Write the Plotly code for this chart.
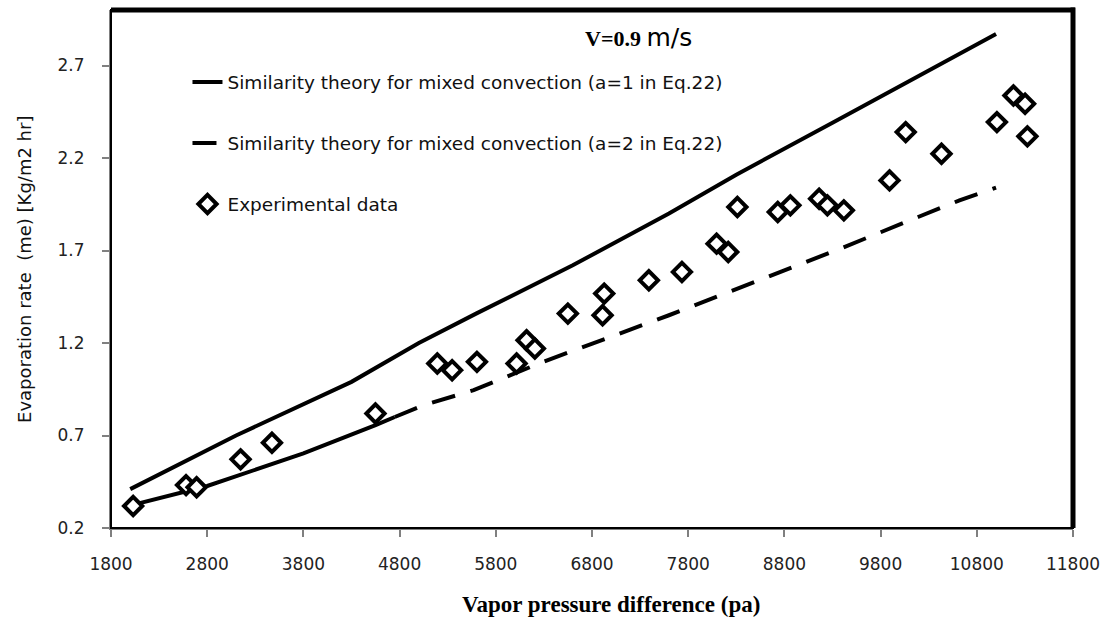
import plotly.graph_objects as go

# ---- data ----
theory_a1_x = [2000, 3100, 4300, 5000, 5600, 6600, 7600, 8300, 9300, 10300, 11000]
theory_a1_y = [0.41, 0.70, 0.99, 1.20, 1.36, 1.62, 1.90, 2.11, 2.39, 2.67, 2.87]

theory_a2_solid_x = [2000, 2100, 2800, 3800, 4550, 4750]
theory_a2_solid_y = [0.31, 0.335, 0.427, 0.603, 0.756, 0.80]

theory_a2_x = [4750, 5050, 5570, 6290, 7600, 8630, 9380, 10190, 10620, 11000]
theory_a2_y = [0.80, 0.864, 0.945, 1.098, 1.35, 1.557, 1.71, 1.881, 1.971, 2.04]

exp_x = [2030, 2580, 2690, 3147, 3473, 4549, 5192, 5346, 5604, 6016, 6120, 6206,
         6549, 6910, 6927, 7391, 7735, 8095, 8216, 8311, 8731, 8862, 9161, 9247,
         9418, 9893, 10061, 10433, 11009, 11181, 11302, 11326]
exp_y = [0.319, 0.432, 0.42, 0.571, 0.661, 0.819, 1.089, 1.053, 1.098, 1.089, 1.215, 1.17,
         1.359, 1.35, 1.467, 1.539, 1.584, 1.737, 1.692, 1.935, 1.908, 1.944, 1.98, 1.944,
         1.917, 2.079, 2.34, 2.223, 2.394, 2.538, 2.493, 2.317]

x_ticks = [1800, 2800, 3800, 4800, 5800, 6800, 7800, 8800, 9800, 10800, 11800]
y_ticks = [0.2, 0.7, 1.2, 1.7, 2.2, 2.7]

name_a1 = "Similarity theory for mixed convection (a=1 in Eq.22)"
name_a2 = "Similarity theory for mixed convection (a=2 in Eq.22)"
name_exp = "Experimental data"

fig = go.Figure()

fig.add_trace(go.Scatter(x=theory_a1_x, y=theory_a1_y, mode="lines", name=name_a1,
                         legendgroup="g1",
                         line=dict(color="black", width=4)))
fig.add_trace(go.Scatter(x=theory_a2_solid_x, y=theory_a2_solid_y, mode="lines",
                         showlegend=False, legendgroup="g2b",
                         line=dict(color="black", width=4)))
fig.add_trace(go.Scatter(x=theory_a2_x, y=theory_a2_y, mode="lines", name=name_a2,
                         legendgroup="g2",
                         line=dict(color="black", width=4, dash="24px,16px")))
fig.add_trace(go.Scatter(x=exp_x, y=exp_y, mode="markers", name=name_exp,
                         legendgroup="g3",
                         marker=dict(symbol="diamond", size=14, color="white",
                                     line=dict(color="black", width=4))))

tick_font = dict(family="DejaVu Sans", size=17, color="#222222")

fig.update_layout(
    width=1110, height=628,
    margin=dict(l=111, r=30, t=10, b=100),
    paper_bgcolor="white", plot_bgcolor="white",
    showlegend=True,
    legend=dict(x=0.0795, xanchor="left", y=0.897, yanchor="top",
                bgcolor="rgba(0,0,0,0)", tracegroupgap=34,
                font=dict(family="DejaVu Sans", size=18.5, color="#111111")),
    xaxis=dict(range=[1800, 11800], tickmode="array", tickvals=x_ticks,
               ticktext=[str(v) for v in x_ticks],
               showgrid=False, zeroline=False,
               showline=True, linecolor="#808080", linewidth=2,
               ticks="outside", ticklen=7, tickcolor="#808080", tickwidth=1.5,
               ticklabelstandoff=13, tickfont=tick_font),
    yaxis=dict(range=[0.2, 3.0], tickmode="array", tickvals=y_ticks,
               ticktext=[f"{v:.1f}" for v in y_ticks],
               showgrid=False, zeroline=False,
               showline=True, linecolor="#808080", linewidth=2,
               ticks="outside", ticklen=7, tickcolor="#808080", tickwidth=1.5,
               ticklabelstandoff=14, tickfont=tick_font),
    shapes=[
        dict(type="rect", xref="paper", yref="paper", x0=0, x1=1, y0=0, y1=1,
             line=dict(color="black", width=2), layer="above"),
        dict(type="line", xref="paper", yref="paper", x0=0, x1=1.002, y0=1, y1=1,
             line=dict(color="black", width=5), layer="above"),
        dict(type="line", xref="paper", yref="paper", x0=1, x1=1, y0=0, y1=1.005,
             line=dict(color="black", width=5), layer="above"),
    ],
    annotations=[
        dict(text="<b>V=0.9</b> <span style='font-family:DejaVu Sans;font-size:25px'>m/s</span>",
             xref="paper", yref="paper", x=0.548, y=0.947,
             xanchor="center", yanchor="middle", showarrow=False,
             font=dict(family="Liberation Serif", size=22, color="black")),
        dict(text="<b>Vapor pressure difference (pa)</b>",
             xref="paper", yref="paper", x=0.52, y=-0.148,
             xanchor="center", yanchor="middle", showarrow=False,
             font=dict(family="Liberation Serif", size=23, color="black")),
        dict(text="Evaporation rate  (me) [Kg/m2 hr]",
             xref="paper", yref="paper", x=-0.09, y=0.499, textangle=-90,
             xanchor="center", yanchor="middle", showarrow=False,
             font=dict(family="DejaVu Sans", size=18, color="#111111")),
    ],
)

fig.write_html("out.html")
